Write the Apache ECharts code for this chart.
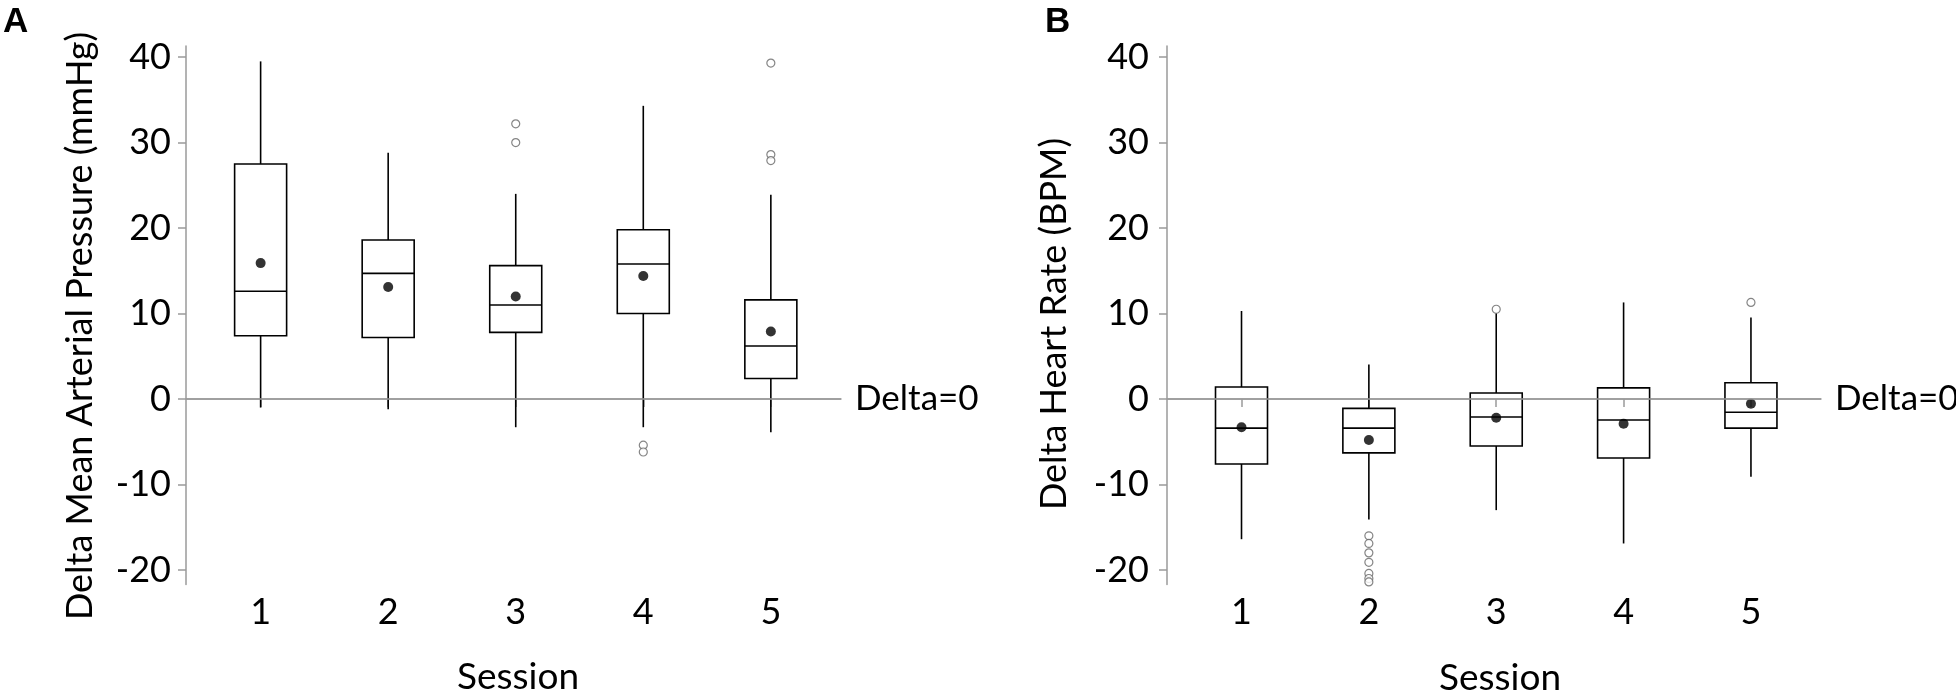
<!DOCTYPE html>
<html>
<head>
<meta charset="utf-8">
<script src="https://cdn.jsdelivr.net/npm/echarts@6/dist/echarts.min.js"></script>
<style>
  html, body { margin: 0; padding: 0; background: #fff; }
  #main { width: 1956px; height: 695px; }
</style>
</head>
<body>
<div id="main"></div>
<script>
// sessions on the x axis
var sessions = [1, 2, 3, 4, 5];
var yTicks = [-20, -10, 0, 10, 20, 30, 40];

// A: delta mean arterial pressure (mmHg)
var mapLow    = [-1.0, -1.2, -3.3, -3.3, -3.9];
var mapQ1     = [7.4, 7.2, 7.8, 10.0, 2.4];
var mapMedian = [12.6, 14.7, 11.0, 15.8, 6.2];
var mapQ3     = [27.5, 18.6, 15.6, 19.8, 11.6];
var mapHigh   = [39.5, 28.8, 24.0, 34.3, 23.9];
var mapMean   = [15.9, 13.1, 12.0, 14.4, 7.9];
var mapOutliers = [[3, 32.2], [3, 30.0], [4, -5.4], [4, -6.2], [5, 39.3], [5, 28.6], [5, 27.9]];

// B: delta heart rate (BPM)
var hrLow    = [-16.4, -14.1, -13.0, -16.9, -9.1];
var hrQ1     = [-7.6, -6.3, -5.5, -6.9, -3.4];
var hrMedian = [-3.4, -3.4, -2.1, -2.45, -1.55];
var hrQ3     = [1.4, -1.1, 0.7, 1.3, 1.9];
var hrHigh   = [10.3, 4.05, 10.0, 11.3, 9.55];
var hrMean   = [-3.3, -4.8, -2.2, -2.9, -0.55];
var hrOutliers = [[2, -16.0], [2, -16.9], [2, -18.0], [2, -19.1], [2, -20.4], [2, -21.0], [2, -21.4], [3, 10.5], [5, 11.3]];

var FONT = 'Lato';
var AXIS_GRAY = '#9a9a9a';

function boxRows(low, q1, med, q3, high) {
    return sessions.map(function (s, i) {
        return [s, low[i], q1[i], med[i], q3[i], high[i]];
    });
}

function meanRows(mean) {
    return sessions.map(function (s, i) { return [s, mean[i]]; });
}

// box + whiskers, no caps
function renderBox(params, api) {
    var x = api.value(0);
    var lo = api.coord([x, api.value(1)]);
    var q1 = api.coord([x, api.value(2)]);
    var md = api.coord([x, api.value(3)]);
    var q3 = api.coord([x, api.value(4)]);
    var hi = api.coord([x, api.value(5)]);
    var w = 52;
    var st = { stroke: '#000', lineWidth: 1.6, fill: null };
    return {
        type: 'group',
        children: [
            { type: 'line', shape: { x1: hi[0], y1: hi[1], x2: q3[0], y2: q3[1] }, style: st },
            { type: 'line', shape: { x1: q1[0], y1: q1[1], x2: lo[0], y2: lo[1] }, style: st },
            { type: 'rect', shape: { x: q3[0] - w / 2, y: q3[1], width: w, height: q1[1] - q3[1] }, style: st },
            { type: 'line', shape: { x1: md[0] - w / 2, y1: md[1], x2: md[0] + w / 2, y2: md[1] }, style: st }
        ]
    };
}

function xAxisFor(gi) {
    return {
        type: 'value', gridIndex: gi, min: 0.415, max: 5.55,
        axisLine: { show: true, lineStyle: { color: AXIS_GRAY, width: 1.5 } },
        axisTick: { show: true, length: 8, customValues: sessions, lineStyle: { color: AXIS_GRAY, width: 1.5 } },
        axisLabel: { customValues: sessions, color: '#000', fontFamily: FONT, fontSize: 36, margin: 10 },
        splitLine: { show: false }
    };
}

function yAxisFor(gi, margin) {
    return {
        type: 'value', gridIndex: gi, min: -21.7, max: 41.3,
        axisLine: { show: true, lineStyle: { color: AXIS_GRAY, width: 1.5 } },
        axisTick: { show: true, length: 8, customValues: yTicks, lineStyle: { color: AXIS_GRAY, width: 1.5 } },
        axisLabel: { customValues: yTicks, color: '#000', fontFamily: FONT, fontSize: 36, margin: margin },
        splitLine: { show: false }
    };
}

function zeroLine() {
    return {
        silent: true, symbol: 'none',
        lineStyle: { color: AXIS_GRAY, width: 1.5, type: 'solid' },
        label: { show: true, position: 'end', distance: 14, formatter: 'Delta=0', color: '#000', fontFamily: FONT, fontSize: 35 },
        data: [{ yAxis: 0 }]
    };
}

function panelSeries(gi, low, q1, med, q3, high, mean, outliers) {
    return [
        {
            type: 'custom', xAxisIndex: gi, yAxisIndex: gi,
            renderItem: renderBox,
            encode: { x: 0, y: [1, 2, 3, 4, 5] },
            data: boxRows(low, q1, med, q3, high),
            z: 3
        },
        {
            type: 'scatter', xAxisIndex: gi, yAxisIndex: gi,
            symbol: 'circle', symbolSize: 8,
            itemStyle: { color: '#fff', borderColor: '#666', borderWidth: 1.2 },
            data: outliers,
            markLine: zeroLine(),
            z: 2
        },
        {
            type: 'scatter', xAxisIndex: gi, yAxisIndex: gi,
            symbol: 'circle', symbolSize: 10,
            itemStyle: { color: '#000' },
            data: meanRows(mean),
            z: 4
        }
    ];
}

var myChart = echarts.init(document.getElementById('main'), null, { renderer: 'canvas' });

var option = {
    backgroundColor: '#fff',
    animation: false,
    grid: [
        { left: 186, right: 1115, top: 46, bottom: 110.5 },
        { left: 1167, right: 135, top: 46, bottom: 110.5 }
    ],
    xAxis: [xAxisFor(0), xAxisFor(1)],
    yAxis: [yAxisFor(0, 15), yAxisFor(1, 18)],
    series: panelSeries(0, mapLow, mapQ1, mapMedian, mapQ3, mapHigh, mapMean, mapOutliers)
        .concat(panelSeries(1, hrLow, hrQ1, hrMedian, hrQ3, hrHigh, hrMean, hrOutliers)),
    graphic: [
        { type: 'text', left: 3, top: 5, style: { text: 'A', fontFamily: 'Liberation Sans', fontWeight: 'bold', fontSize: 35, fill: '#000' } },
        { type: 'text', left: 1045, top: 5, style: { text: 'B', fontFamily: 'Liberation Sans', fontWeight: 'bold', fontSize: 35, fill: '#000' } },
        { type: 'text', x: 80, y: 326, rotation: Math.PI / 2,
          style: { text: 'Delta Mean Arterial Pressure (mmHg)', fontFamily: FONT, fontSize: 36, fill: '#000', align: 'center', verticalAlign: 'middle' } },
        { type: 'text', x: 1054, y: 324, rotation: Math.PI / 2,
          style: { text: 'Delta Heart Rate (BPM)', fontFamily: FONT, fontSize: 36, fill: '#000', align: 'center', verticalAlign: 'middle' } },
        { type: 'text', x: 518, y: 677,
          style: { text: 'Session', fontFamily: FONT, fontSize: 37, fill: '#000', align: 'center', verticalAlign: 'middle' } },
        { type: 'text', x: 1500, y: 678,
          style: { text: 'Session', fontFamily: FONT, fontSize: 37, fill: '#000', align: 'center', verticalAlign: 'middle' } }
    ]
};

myChart.setOption(option);
</script>
</body>
</html>
